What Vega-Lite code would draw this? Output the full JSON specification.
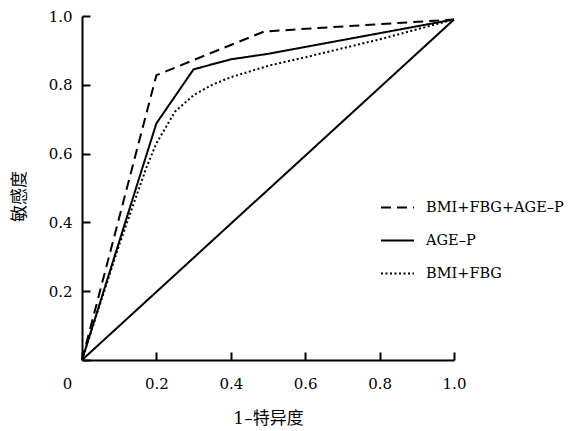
{
  "$schema": "https://vega.github.io/schema/vega-lite/v6.json",
  "width": 372,
  "height": 344,
  "autosize": {"type": "none"},
  "padding": {"left": 82, "top": 16, "right": 115, "bottom": 71},
  "background": "white",
  "config": {
    "font": "DejaVu Serif",
    "view": {"stroke": null}
  },
  "datasets": {
    "roc": [
      {"model": "BMI+FBG+AGE–P", "x": 0, "y": 0},
      {"model": "BMI+FBG+AGE–P", "x": 0.2, "y": 0.828},
      {"model": "BMI+FBG+AGE–P", "x": 0.49, "y": 0.955},
      {"model": "BMI+FBG+AGE–P", "x": 1, "y": 0.99},
      {"model": "AGE–P", "x": 0, "y": 0},
      {"model": "AGE–P", "x": 0.2, "y": 0.688},
      {"model": "AGE–P", "x": 0.3, "y": 0.845},
      {"model": "AGE–P", "x": 0.4, "y": 0.874},
      {"model": "AGE–P", "x": 0.5, "y": 0.89},
      {"model": "AGE–P", "x": 1, "y": 0.99},
      {"model": "BMI+FBG", "x": 0, "y": 0},
      {"model": "BMI+FBG", "x": 0.1, "y": 0.335},
      {"model": "BMI+FBG", "x": 0.174, "y": 0.562},
      {"model": "BMI+FBG", "x": 0.2, "y": 0.63},
      {"model": "BMI+FBG", "x": 0.25, "y": 0.722},
      {"model": "BMI+FBG", "x": 0.3, "y": 0.77},
      {"model": "BMI+FBG", "x": 0.35, "y": 0.8},
      {"model": "BMI+FBG", "x": 0.4, "y": 0.822},
      {"model": "BMI+FBG", "x": 0.5, "y": 0.855},
      {"model": "BMI+FBG", "x": 0.6, "y": 0.88},
      {"model": "BMI+FBG", "x": 0.8, "y": 0.932},
      {"model": "BMI+FBG", "x": 1, "y": 0.99}
    ],
    "diag": [
      {"x": 0, "y": 0},
      {"x": 1, "y": 0.99}
    ]
  },
  "layer": [
    {
      "data": {"name": "diag"},
      "mark": {"type": "line", "color": "black", "strokeWidth": 2},
      "encoding": {
        "x": {"field": "x", "type": "quantitative", "scale": {"domain": [0, 1], "nice": false}},
        "y": {"field": "y", "type": "quantitative", "scale": {"domain": [0, 1], "nice": false}}
      }
    },
    {
      "data": {"name": "roc"},
      "mark": {"type": "line", "color": "black", "strokeWidth": 2},
      "encoding": {
        "x": {
          "field": "x",
          "type": "quantitative",
          "scale": {"domain": [0, 1], "nice": false},
          "axis": {
            "zindex": 1,
            "grid": false,
            "domainColor": "black",
            "domainWidth": 2,
            "ticks": true,
            "tickColor": "black",
            "tickOpacity": 1,
            "tickWidth": 2,
            "tickSize": -8,
            "labelFont": "DejaVu Serif",
            "labelFontSize": 15,
            "labelColor": "black",
            "titleFont": "DejaVu Serif, Noto Sans CJK SC",
            "titleFontSize": 17,
            "titleFontWeight": "normal",
            "titleColor": "black",
            "values": [0, 0.2, 0.4, 0.6, 0.8, 1],
            "labelExpr": "datum.value === 0 ? '0' : format(datum.value, '.1f')",
            "labelFlush": false,
            "labelOverlap": false,
            "labelPadding": 24,
            "labelOffset": {"condition": {"test": "datum.value === 0", "value": -15}, "value": 0},
            "title": "1–特异度",
            "titleX": 186,
            "titleY": 58,
            "titleBaseline": "middle"
          }
        },
        "y": {
          "field": "y",
          "type": "quantitative",
          "scale": {"domain": [0, 1], "nice": false},
          "axis": {
            "zindex": 1,
            "grid": false,
            "domainColor": "black",
            "domainWidth": 2,
            "ticks": true,
            "tickColor": "black",
            "tickOpacity": 1,
            "tickWidth": 2,
            "tickSize": -8,
            "labelFont": "DejaVu Serif",
            "labelFontSize": 15,
            "labelColor": "black",
            "titleFont": "DejaVu Serif, Noto Sans CJK SC",
            "titleFontSize": 17,
            "titleFontWeight": "normal",
            "titleColor": "black",
            "values": [0, 0.1, 0.2, 0.3, 0.4, 0.5, 0.6, 0.7, 0.8, 0.9, 1],
            "labelExpr": "(datum.value === 0 || round(datum.value * 10) % 2 === 1) ? '' : format(datum.value, '.1f')",
            "labelPadding": 18,
            "labelOverlap": false,
            "labelFlush": false,
            "title": "敏感度",
            "titleX": -63,
            "titleY": 180,
            "titleBaseline": "middle"
          }
        },
        "strokeDash": {
          "field": "model",
          "type": "nominal",
          "scale": {
            "domain": ["BMI+FBG+AGE–P", "AGE–P", "BMI+FBG"],
            "range": [[10, 6], [1, 0], [2, 2.5]]
          },
          "legend": {
            "orient": "none",
            "legendX": 298,
            "legendY": 174,
            "title": null,
            "padding": 0,
            "symbolType": "stroke",
            "symbolSize": 1089,
            "symbolStrokeWidth": 2,
            "symbolStrokeColor": "black",
            "labelFont": "DejaVu Serif",
            "labelFontSize": 14.5,
            "labelColor": "black",
            "labelOffset": 11,
            "rowPadding": 9,
            "labelLimit": 300
          }
        }
      }
    }
  ]
}
